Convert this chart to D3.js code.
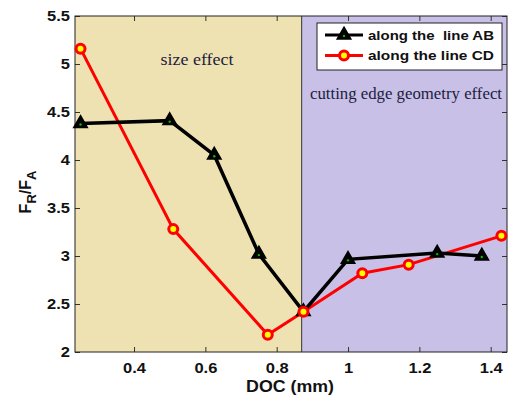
<!DOCTYPE html>
<html>
<head>
<meta charset="utf-8">
<script src="https://cdnjs.cloudflare.com/ajax/libs/d3/7.8.5/d3.min.js"></script>
<style>
  body { margin: 0; background: #fff; }
  .tick text { font-family: "Liberation Sans", Arial, sans-serif; font-weight: bold; font-size: 15px; fill: #111; }
</style>
</head>
<body>
<div id="chart"></div>
<script>
// data
var docAB = [0.25, 0.5, 0.625, 0.75, 0.875, 1.0, 1.25, 1.375];
var ratioAB = [4.38, 4.41, 4.05, 3.02, 2.42, 2.965, 3.03, 3.0];
var docCD = [0.25, 0.51, 0.775, 0.875, 1.04, 1.17, 1.43];
var ratioCD = [5.16, 3.28, 2.18, 2.42, 2.82, 2.91, 3.21];
var xTicks = [0.4, 0.6, 0.8, 1, 1.2, 1.4];
var yTicks = [2, 2.5, 3, 3.5, 4, 4.5, 5, 5.5];
var regionSplit = 0.87;
var regionLabels = ["size effect", "cutting edge geometry effect"];
var seriesNames = ["along the  line AB", "along the line CD"];

var W = 510, H = 400;
var margin = {top: 16, right: 3, bottom: 48, left: 75},
    width = W - margin.left - margin.right,
    height = H - margin.top - margin.bottom;

var x = d3.scaleLinear().domain([0.2345, 1.4457]).range([0, width]);
var y = d3.scaleLinear().domain([2, 5.5]).range([height, 0]);

//the reference text is a bit wider than plain Arial, stretch it
function stretch(sel, k) {
  sel.each(function() {
    var l = this.getComputedTextLength();
    d3.select(this).attr("textLength", l * k).attr("lengthAdjust", "spacingAndGlyphs");
  });
}

var svg = d3.select("#chart").append("svg")
    .attr("width", W)
    .attr("height", H);

var g = svg.append("g")
    .attr("transform", "translate(" + margin.left + "," + margin.top + ")");

//Background regions
g.append("rect")
    .attr("x", 0).attr("y", 0)
    .attr("width", x(regionSplit)).attr("height", height)
    .attr("fill", "#eee2b2");
g.append("rect")
    .attr("x", x(regionSplit)).attr("y", 0)
    .attr("width", width - x(regionSplit)).attr("height", height)
    .attr("fill", "#c8c0e6");
g.append("line")
    .attr("x1", x(regionSplit)).attr("x2", x(regionSplit))
    .attr("y1", 0).attr("y2", height)
    .attr("stroke", "#333").attr("stroke-width", 1);

//Region labels
g.append("text")
    .attr("x", 122).attr("y", 49)
    .attr("text-anchor", "middle")
    .attr("font-family", "Liberation Serif, Times New Roman, serif")
    .attr("font-size", 16).attr("fill", "#1c1c40")
    .text(regionLabels[0])
    .attr("textLength", 73).attr("lengthAdjust", "spacingAndGlyphs");
g.append("text")
    .attr("x", 331).attr("y", 83)
    .attr("text-anchor", "middle")
    .attr("font-family", "Liberation Serif, Times New Roman, serif")
    .attr("font-size", 16).attr("fill", "#1c1c40")
    .text(regionLabels[1])
    .attr("textLength", 192).attr("lengthAdjust", "spacingAndGlyphs");

//Axes, ticks pointing inwards like matlab
var xAxis = d3.axisBottom(x).tickValues(xTicks).tickSizeInner(-5).tickSizeOuter(0).tickPadding(10)
    .tickFormat(d3.format("~g"));
var yAxis = d3.axisLeft(y).tickValues(yTicks).tickSizeInner(-5).tickSizeOuter(0).tickPadding(5)
    .tickFormat(d3.format("~g"));

g.append("g").attr("class", "axis")
    .attr("transform", "translate(0," + height + ")")
    .call(xAxis);
g.append("g").attr("class", "axis")
    .call(yAxis);
g.append("g")
    .call(d3.axisTop(x).tickValues(xTicks).tickSizeInner(-5).tickSizeOuter(0).tickFormat(""));
g.append("g")
    .attr("transform", "translate(" + width + ",0)")
    .call(d3.axisRight(y).tickValues(yTicks).tickSizeInner(-5).tickSizeOuter(0).tickFormat(""));
g.selectAll(".domain").remove();
g.selectAll(".tick line").attr("stroke", "#333");
g.selectAll(".axis .tick text").call(stretch, 1.1);

g.append("rect")
    .attr("width", width).attr("height", height)
    .attr("fill", "none").attr("stroke", "#222").attr("stroke-width", 1);

//Lines
var ab = docAB.map(function(d, i) { return [d, ratioAB[i]]; });
var cd = docCD.map(function(d, i) { return [d, ratioCD[i]]; });
var line = d3.line()
    .x(function(d) { return x(d[0]); })
    .y(function(d) { return y(d[1]); });

g.append("path").datum(cd)
    .attr("d", line).attr("fill", "none")
    .attr("stroke", "#ff0000").attr("stroke-width", 3);
g.append("path").datum(ab)
    .attr("d", line).attr("fill", "none")
    .attr("stroke", "#000").attr("stroke-width", 3.5);

var tri = d3.symbol().type(d3.symbolTriangle).size(80);

function triMarker(sel) {
  sel.append("path").attr("d", tri).attr("fill", "#000").attr("stroke", "#000").attr("stroke-width", 1.5);
  sel.append("circle").attr("r", 1.2).attr("cy", 1).attr("fill", "#00c000");
}
function circMarker(sel) {
  sel.append("circle").attr("r", 4.5).attr("fill", "#ffff00").attr("stroke", "#ff0000").attr("stroke-width", 3);
}

g.selectAll(".mab").data(ab).enter().append("g")
    .attr("transform", function(d) { return "translate(" + x(d[0]) + "," + y(d[1]) + ")"; })
    .call(triMarker);
g.selectAll(".mcd").data(cd).enter().append("g")
    .attr("transform", function(d) { return "translate(" + x(d[0]) + "," + y(d[1]) + ")"; })
    .call(circMarker);

//Legend
var leg = svg.append("g").attr("transform", "translate(317,23)");
leg.append("rect")
    .attr("width", 185).attr("height", 47)
    .attr("fill", "#fff").attr("stroke", "#222").attr("stroke-width", 1);
[0, 1].forEach(function(i) {
  var ly = 12 + i * 20.5;
  leg.append("line")
      .attr("x1", 8).attr("x2", 46).attr("y1", ly).attr("y2", ly)
      .attr("stroke", i == 0 ? "#000" : "#ff0000").attr("stroke-width", 3);
  var m = leg.append("g").attr("transform", "translate(27," + ly + ")");
  if (i == 0) m.call(triMarker); else m.call(circMarker);
  leg.append("text")
      .attr("x", 51).attr("y", ly + 4.5)
      .attr("font-family", "Liberation Sans, Arial, sans-serif")
      .attr("font-weight", "bold").attr("font-size", 12.5)
      .attr("fill", "#111")
      .attr("xml:space", "preserve")
      .style("white-space", "pre")
      .text(seriesNames[i])
      .attr("textLength", 126).attr("lengthAdjust", "spacingAndGlyphs");
});

//Axis labels
svg.append("text")
    .attr("x", margin.left + width / 2 - 1).attr("y", 392)
    .attr("text-anchor", "middle")
    .attr("font-family", "Liberation Sans, Arial, sans-serif")
    .attr("font-weight", "bold").attr("font-size", 16).attr("fill", "#111")
    .text("DOC (mm)")
    .call(stretch, 1.11);

var yl = svg.append("text")
    .attr("transform", "translate(31,192) rotate(-90)")
    .attr("text-anchor", "middle")
    .attr("font-family", "Liberation Sans, Arial, sans-serif")
    .attr("font-weight", "bold").attr("font-size", 16).attr("fill", "#111");
yl.append("tspan").text("F");
yl.append("tspan").attr("font-size", 13).attr("dy", 5).text("R");
yl.append("tspan").attr("dy", -5).text("/F");
yl.append("tspan").attr("font-size", 13).attr("dy", 5).text("A");
</script>
</body>
</html>
